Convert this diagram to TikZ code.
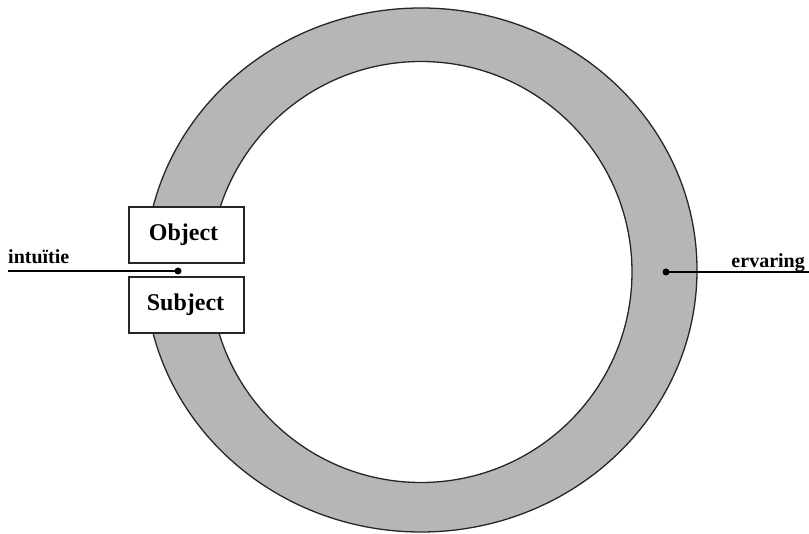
\documentclass[tikz,border=0pt]{standalone}
\usepackage{fontspec}
\setmainfont{Liberation Serif}
\definecolor{ringgray}{RGB}{180,182,183}
\begin{document}
\begin{tikzpicture}[x=1pt,y=-1pt,
  outline/.style={line width=1.3pt,draw=black!85},
  box/.style={draw=black!85,line width=1.2pt,fill=white,minimum width=115pt,minimum height=56pt,
    inner sep=0pt,font=\fontsize{24}{24}\selectfont\bfseries},
  lbl/.style={inner sep=0pt,font=\fontsize{20}{20}\selectfont\bfseries},
  conn/.style={line width=1.2pt,draw=black},
  dotmark/.style={circle,fill=black,inner sep=0pt,minimum size=7pt}]
\useasboundingbox (0,0) rectangle (809,534);
% ring
\fill[ringgray,even odd rule] (421,270) ellipse [x radius=276,y radius=262]
  (421,272) ellipse [x radius=211,y radius=210.5];
\draw[outline] (421,270) ellipse [x radius=276,y radius=262];
\draw[outline] (421,272) ellipse [x radius=211,y radius=210.5];
% boxes
\node[box] (obj) at (186.5,235) {\hspace*{-6pt}\raisebox{-3pt}{Object}};
\node[box] (subj) at (186.5,305) {\hspace*{-2pt}\raisebox{-2pt}{Subject}};
\fill[white] ([yshift=-0.6pt]obj.south west) rectangle ([yshift=0.6pt]subj.north east);
% dots and lines
\node[dotmark] (ldot) at (178,271) {};
\node[dotmark] (rdot) at (666,272) {};
\coordinate (lend) at (8,271);
\coordinate (rend) at (809,272);
\draw[conn] (lend) -- (ldot.center);
\draw[conn] (rdot.center) -- (rend);
% labels
\node[lbl,anchor=base west] (intu) at (8,264) {intuïtie};
\node[lbl,anchor=base east] (erv) at (805,268) {ervaring};
\end{tikzpicture}
\end{document}
